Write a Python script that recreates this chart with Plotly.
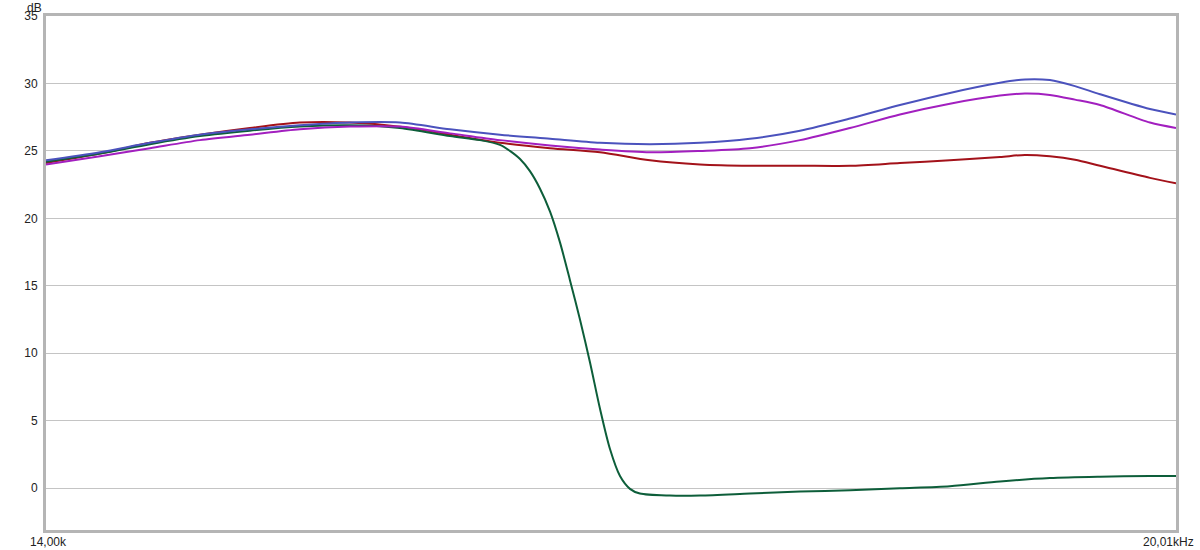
import math
import plotly.graph_objects as go

# Frequencies (Hz) shared by the three smooth curves
freq = [14000, 14241, 14468, 14698, 14932, 15170, 15412, 15657, 15907, 16160,
        16418, 16679, 16945, 17215, 17489, 17768, 18051, 18338, 18630, 18927,
        19077, 19228, 19381, 19535, 19846, 20010]

blue_db = [24.3, 24.9, 25.6, 26.2, 26.6, 26.9, 27.1, 27.1, 26.6, 26.2,
           25.9, 25.6, 25.5, 25.6, 25.9, 26.5, 27.4, 28.4, 29.3, 30.05,
           30.3, 30.25, 29.8, 29.2, 28.1, 27.7]
purple_db = [24.0, 24.6, 25.2, 25.8, 26.2, 26.6, 26.8, 26.8, 26.3, 25.8,
             25.4, 25.1, 24.9, 25.0, 25.2, 25.8, 26.7, 27.7, 28.5, 29.1,
             29.25, 29.15, 28.8, 28.4, 27.1, 26.7]
red_db = [24.1, 24.8, 25.6, 26.2, 26.7, 27.1, 27.1, 26.8, 26.2, 25.6,
          25.2, 24.9, 24.3, 24.0, 23.9, 23.9, 23.9, 24.1, 24.3, 24.55,
          24.7, 24.6, 24.35, 23.9, 23.0, 22.6]

# Green curve has a steep roll-off, so it is sampled more densely there
green_freq = [14000, 14241, 14468, 14698, 14932, 15170, 15412, 15657, 15907, 16058,
              16160, 16211, 16263, 16314, 16366, 16418, 16470, 16522, 16574, 16627,
              16679, 16732, 16785, 16838, 16891, 17052, 17215, 17489, 17768, 18051,
              18338, 18630, 18927, 19228, 19535, 19846, 20010]
green_db = [24.2, 24.8, 25.5, 26.1, 26.5, 26.8, 26.9, 26.7, 26.1, 25.8,
            25.45, 25.0, 24.4, 23.5, 22.2, 20.5, 18.2, 15.4, 12.5, 9.3,
            5.9, 2.9, 0.9, -0.05, -0.4, -0.55, -0.55, -0.4, -0.25, -0.15,
            0.0, 0.15, 0.5, 0.75, 0.85, 0.9, 0.9]

y_ticks = [0, 5, 10, 15, 20, 25, 30, 35]
x_tickvals = [14000, 20010]
x_ticktext = ["14,00k", "20,01kHz"]
x_label_shift = [2, -8]

fig = go.Figure()
series = [
    (freq, red_db, "#a3121a"),
    (green_freq, green_db, "#0d5e3a"),
    (freq, purple_db, "#a21fbf"),
    (freq, blue_db, "#4b52bd"),
]
for xs, ys, col in series:
    fig.add_trace(go.Scatter(x=xs, y=ys, mode="lines",
                             line=dict(color=col, width=2, shape="spline", smoothing=0.8),
                             showlegend=False, hoverinfo="skip"))

annotations = [dict(text="dB", x=0, y=1, xref="paper", yref="paper",
                    xanchor="right", yanchor="top", xshift=-2, yshift=17,
                    showarrow=False, font=dict(size=12, color="#222"))]
for v, t, s in zip(x_tickvals, x_ticktext, x_label_shift):
    annotations.append(dict(text=t, x=math.log10(v), y=0, xref="x", yref="paper",
                            xanchor="center", yanchor="top", xshift=s, yshift=-3,
                            showarrow=False, font=dict(size=12, color="#222")))

fig.update_layout(
    width=1200, height=550,
    margin=dict(l=46, r=24, t=16, b=20, autoexpand=False),
    paper_bgcolor="white", plot_bgcolor="white",
    font=dict(family="Liberation Sans, Arial, sans-serif", size=12, color="#222"),
    xaxis=dict(type="log", range=[math.log10(14000), math.log10(20010)],
               showticklabels=False, showgrid=False, automargin=False,
               showline=True, linecolor="#b5b5b5", linewidth=3, mirror=True,
               ticks="", zeroline=False),
    yaxis=dict(range=[-3.1, 35], tickvals=y_ticks, showgrid=True, automargin=False,
               gridcolor="#c4c4c4", gridwidth=1, zeroline=False,
               showline=True, linecolor="#b5b5b5", linewidth=3, mirror=True,
               ticks="", ticklabelstandoff=3),
    annotations=annotations,
)

# Remove the browser's default body margin so the figure fills the window exactly
fig.write_html("out.html", config={"displayModeBar": False},
               post_script="document.body.style.margin='0';")
